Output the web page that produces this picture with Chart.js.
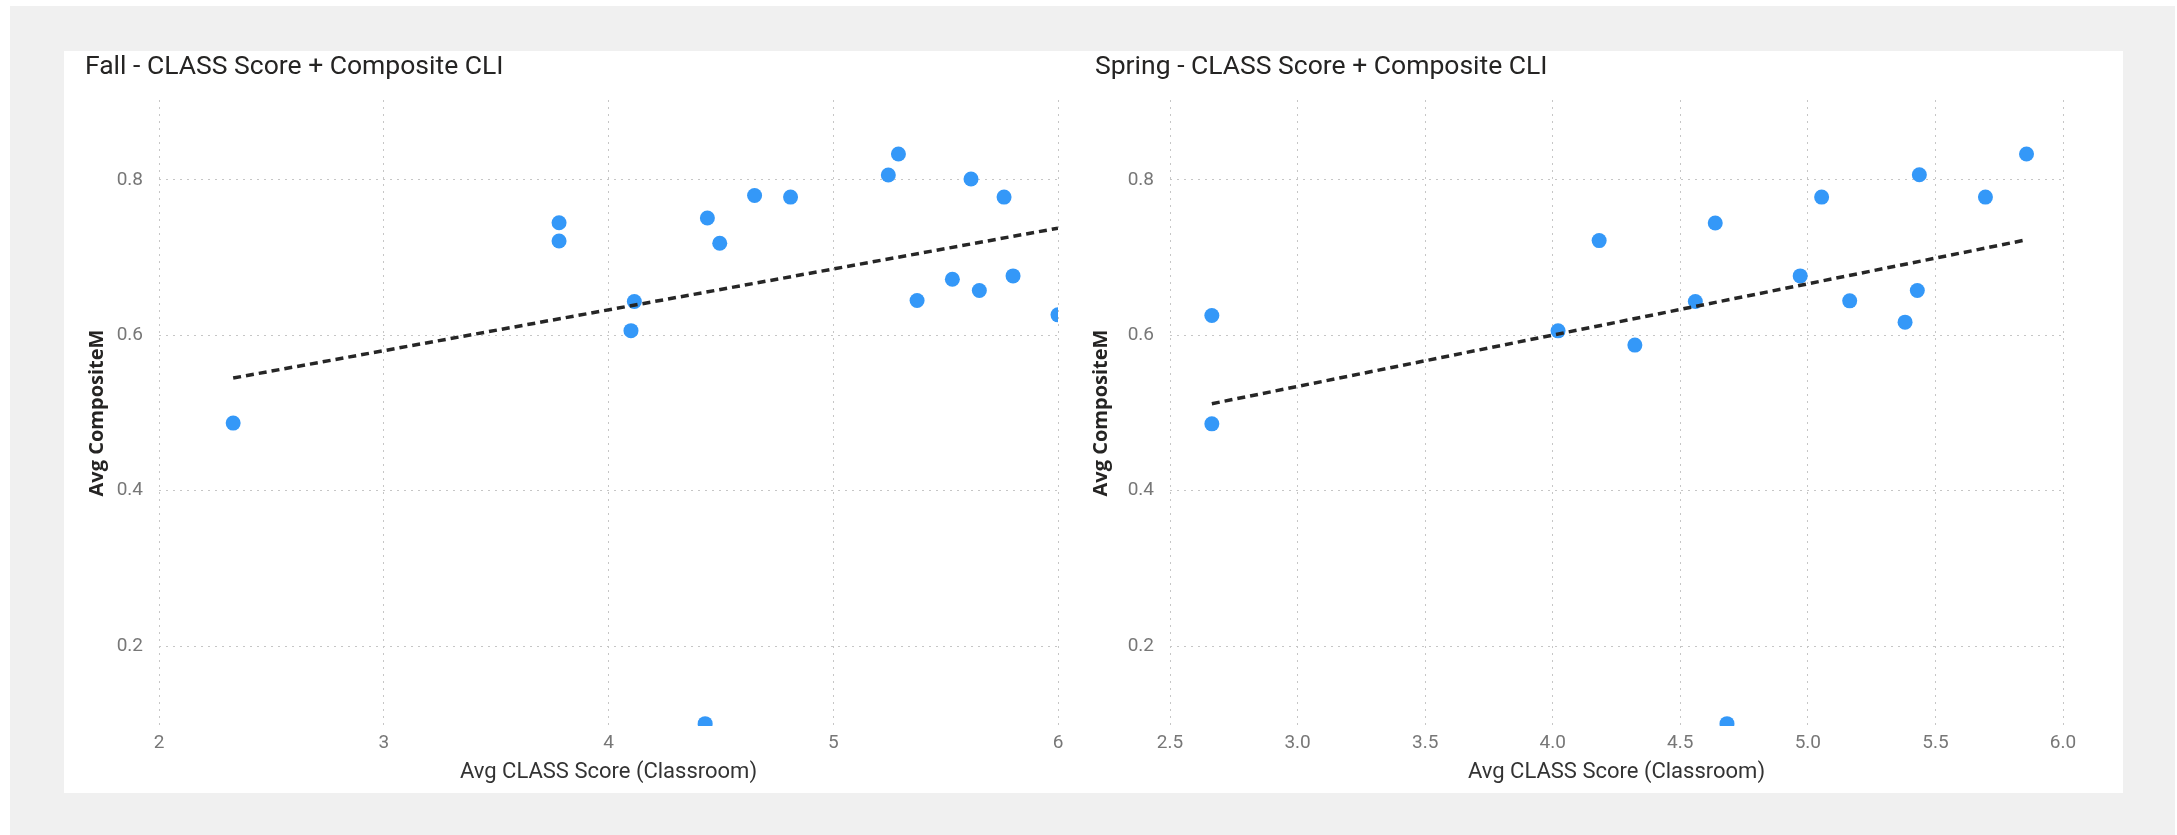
<!DOCTYPE html>
<html>
<head>
<meta charset="utf-8">
<script src="https://cdn.jsdelivr.net/npm/chart.js@4"></script>
<style>
  html, body { margin: 0; padding: 0; background: #ffffff; width: 2177px; height: 835px; overflow: hidden; }
  #bg { position: absolute; left: 10px; top: 6px; width: 2165px; height: 829px; background: #f0f0f0; }
  #panel { position: absolute; left: 64px; top: 51px; width: 2059px; height: 742px; background: #ffffff; }
  .wrap { position: absolute; top: 51px; height: 742px; }
  #w1 { left: 64px; width: 1011px; }
  #w2 { left: 1075px; width: 1048px; }
</style>
</head>
<body>
<div id="bg"></div>
<div id="panel"></div>
<div class="wrap" id="w1"><canvas id="c1" width="1011" height="742"></canvas></div>
<div class="wrap" id="w2"><canvas id="c2" width="1048" height="742"></canvas></div>
<script>
// ---- Data ----
const fallTitle = 'Fall - CLASS Score + Composite CLI';
const springTitle = 'Spring - CLASS Score + Composite CLI';
const xAxisTitle = 'Avg CLASS Score (Classroom)';
const yAxisTitle = 'Avg CompositeM';

const fallX = [2.33, 3.78, 3.78, 4.10, 4.115, 4.44, 4.495, 4.65, 4.81, 5.245, 5.29, 5.373, 5.53, 5.613, 5.65, 5.76, 5.80, 6.00, 4.43];
const fallY = [0.487, 0.745, 0.7215, 0.606, 0.6435, 0.751, 0.7186, 0.780, 0.778, 0.8064, 0.8334, 0.6448, 0.6723, 0.8013, 0.6577, 0.778, 0.6765, 0.6264, 0.10];
const fallTrendX = [2.33, 6.0];
const fallTrendY = [0.545, 0.738];

const springX = [2.664, 2.664, 4.021, 4.182, 4.322, 4.559, 4.637, 4.97, 5.054, 5.164, 5.381, 5.429, 5.437, 5.696, 5.857, 4.683];
const springY = [0.6255, 0.486, 0.6058, 0.722, 0.5874, 0.6435, 0.7447, 0.6765, 0.778, 0.6444, 0.617, 0.6577, 0.8068, 0.778, 0.8334, 0.10];
const springTrendX = [2.664, 5.857];
const springTrendY = [0.512, 0.723];

const fallXTicks = [2, 3, 4, 5, 6];
const fallXLabels = ['2', '3', '4', '5', '6'];
const springXTicks = [2.5, 3.0, 3.5, 4.0, 4.5, 5.0, 5.5, 6.0];
const springXLabels = ['2.5', '3.0', '3.5', '4.0', '4.5', '5.0', '5.5', '6.0'];
const yTicks = [0.2, 0.4, 0.6, 0.8];
const yLabels = ['0.2', '0.4', '0.6', '0.8'];

const fallXRange = [2, 6];
const springXRange = [2.5, 6.0];
const yRange = [0.097, 0.903];

// ---- Styling ----
Chart.defaults.font.family = 'Roboto, "Open Sans", sans-serif';
const DOT = '#3498f8';
const GRID = '#c6c6c6';

function pts(xs, ys) { return xs.map((x, i) => ({ x: x, y: ys[i] })); }

function makeChart(id, cfg) {
  const ctx = document.getElementById(id).getContext('2d');
  return new Chart(ctx, {
    type: 'scatter',
    data: {
      datasets: [
        {
          label: 'Trend',
          data: pts(cfg.trendX, cfg.trendY),
          showLine: true,
          borderColor: '#262626',
          borderWidth: 3.5,
          borderDash: [8, 5],
          pointRadius: 0,
          fill: false,
          clip: 0
        },
        {
          label: 'Points',
          data: pts(cfg.xs, cfg.ys),
          backgroundColor: DOT,
          borderWidth: 0,
          pointRadius: 7.5,
          pointBorderWidth: 0,
          clip: 0
        }
      ]
    },
    options: {
      responsive: false,
      animation: false,
      events: [],
      layout: { padding: { left: cfg.padLeft, right: cfg.padRight, top: 0, bottom: 0 } },
      plugins: {
        legend: { display: false },
        tooltip: { enabled: false },
        title: {
          display: true,
          text: cfg.title,
          align: 'start',
          color: '#252423',
          font: { family: 'Roboto', size: 26.5, weight: 'normal', lineHeight: 1.2 },
          padding: { top: 0, bottom: 17.2 }
        }
      },
      scales: {
        x: {
          type: 'linear',
          min: cfg.xRange[0],
          max: cfg.xRange[1],
          afterBuildTicks: (s) => { s.ticks = cfg.xTicks.map(v => ({ value: v })); },
          afterFit: (s) => { s.height = 67; s.paddingLeft = 0; s.paddingRight = 0; },
          grid: { color: GRID, lineWidth: 1, drawTicks: false },
          border: { display: false, dash: [2, 5] },
          ticks: {
            color: '#777777',
            font: { family: 'Roboto', size: 19 },
            padding: 5.6,
            maxRotation: 0,
            autoSkip: false,
            callback: (v) => { const i = cfg.xTicks.findIndex(t => Math.abs(t - v) < 1e-9); return i >= 0 ? cfg.xLabels[i] : ''; }
          },
          title: {
            display: true,
            text: xAxisTitle,
            color: '#333333',
            font: { family: 'Roboto', size: 22, lineHeight: 1.2 },
            padding: { top: 0, bottom: 7.8 }
          }
        },
        y: {
          type: 'linear',
          min: yRange[0],
          max: yRange[1],
          afterBuildTicks: (s) => { s.ticks = yTicks.map(v => ({ value: v })); },
          afterFit: (s) => { s.width = 95 - cfg.padLeft; s.paddingTop = 0; s.paddingBottom = 0; },
          grid: { color: GRID, lineWidth: 1, drawTicks: false },
          border: { display: false, dash: [2, 5] },
          ticks: {
            color: '#777777',
            font: { family: 'Roboto', size: 19 },
            padding: 16,
            autoSkip: false,
            callback: (v) => { const i = yTicks.findIndex(t => Math.abs(t - v) < 1e-9); return i >= 0 ? yLabels[i] : ''; }
          },
          title: {
            display: true,
            text: yAxisTitle,
            color: '#252423',
            font: { family: 'Open Sans', size: 20, weight: 'bold', lineHeight: 1.2 },
            padding: { top: cfg.yTitlePad, bottom: 0 }
          }
        }
      }
    }
  });
}

makeChart('c1', {
  title: fallTitle, xs: fallX, ys: fallY, trendX: fallTrendX, trendY: fallTrendY,
  xRange: fallXRange, xTicks: fallXTicks, xLabels: fallXLabels,
  padLeft: 21, padRight: 17, yTitlePad: 0
});
makeChart('c2', {
  title: springTitle, xs: springX, ys: springY, trendX: springTrendX, trendY: springTrendY,
  xRange: springXRange, xTicks: springXTicks, xLabels: springXLabels,
  padLeft: 20, padRight: 60, yTitlePad: -6
});
</script>
</body>
</html>
